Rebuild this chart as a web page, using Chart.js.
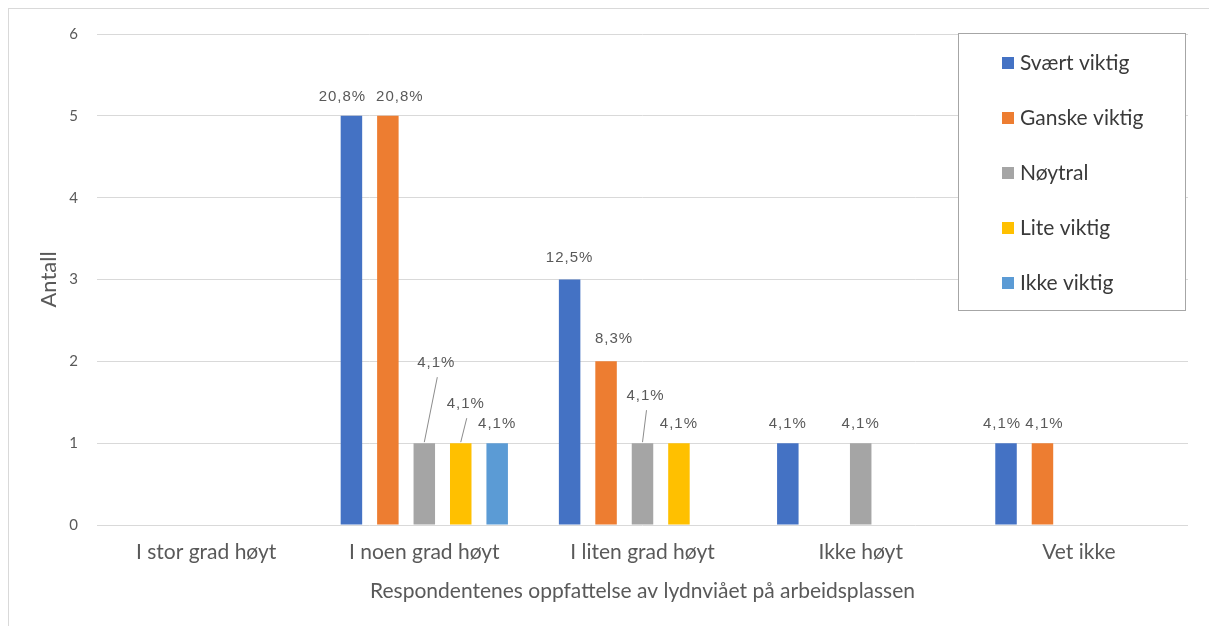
<!DOCTYPE html>
<html>
<head>
<meta charset="utf-8">
<script src="https://cdn.jsdelivr.net/npm/chart.js@4.4.1/dist/chart.umd.min.js"></script>
<style>
  html, body { margin: 0; padding: 0; background: #ffffff; }
  canvas { display: block; }
</style>
</head>
<body>
<canvas id="chart" width="1209" height="626"></canvas>
<script>
// Categories on the x axis
const categories = ['I stor grad høyt', 'I noen grad høyt', 'I liten grad høyt', 'Ikke høyt', 'Vet ikke'];

// Counts per answer group
const svaertViktig = [0, 5, 3, 1, 1];
const ganskeViktig = [0, 5, 2, 0, 1];
const noytral      = [0, 1, 1, 1, 0];
const liteViktig   = [0, 1, 1, 0, 0];
const ikkeViktig   = [0, 1, 0, 0, 0];

// Percent labels printed above the bars
const svaertViktigPct = ['', '20,8%', '12,5%', '4,1%', '4,1%'];
const ganskeViktigPct = ['', '20,8%', '8,3%', '', '4,1%'];
const noytralPct      = ['', '4,1%', '4,1%', '4,1%', ''];
const liteViktigPct   = ['', '4,1%', '4,1%', '', ''];
const ikkeViktigPct   = ['', '4,1%', '', '', ''];

// Y axis range
const yMin = 0, yMax = 6, yStep = 1;

const seriesNames = ['Svært viktig', 'Ganske viktig', 'Nøytral', 'Lite viktig', 'Ikke viktig'];
const seriesColors = ['#4472C4', '#ED7D31', '#A5A5A5', '#FFC000', '#5B9BD5'];
const seriesValues = [svaertViktig, ganskeViktig, noytral, liteViktig, ikkeViktig];
const seriesPct = [svaertViktigPct, ganskeViktigPct, noytralPct, liteViktigPct, ikkeViktigPct];

// Labels nudged away from neighbours: [dx, dy, leader line?] in px
const labelShift = {
  '0:1': [-9, 0, false], '1:1': [12, 0, false],
  '0:2': [0, -3, false], '1:2': [8, -3, false],
  '0:4': [-4, 0, false], '1:4': [2, 0, false],
  '2:1': [12, -61, true], '3:1': [5, -20, true], '2:2': [3, -28, true]
};

const TEXT = '#595959';
const UI_FONT = 'Lato, "Open Sans", sans-serif';

const frame = {
  id: 'frame',
  beforeDraw(chart) {
    const ctx = chart.ctx;
    ctx.save();
    ctx.fillStyle = '#ffffff';
    ctx.fillRect(0, 0, chart.width, chart.height);
    ctx.strokeStyle = '#d9d9d9';
    ctx.lineWidth = 1;
    ctx.strokeRect(8.5, 8.5, chart.width + 20, chart.height + 20);
    ctx.restore();
  }
};

const valueLabels = {
  id: 'valueLabels',
  afterDatasetsDraw(chart) {
    const ctx = chart.ctx;
    ctx.save();
    ctx.font = '15px "Liberation Sans", Arial, sans-serif';
    if ('letterSpacing' in ctx) ctx.letterSpacing = '1px';
    ctx.fillStyle = TEXT;
    ctx.textAlign = 'center';
    ctx.textBaseline = 'middle';
    chart.data.datasets.forEach((ds, di) => {
      const meta = chart.getDatasetMeta(di);
      meta.data.forEach((bar, i) => {
        const txt = ds.pctLabels[i];
        if (!txt) return;
        const shift = labelShift[di + ':' + i] || [0, 0, false];
        const x = bar.x + shift[0];
        const y = bar.y - 19 + shift[1];
        if (shift[2]) {
          ctx.strokeStyle = '#8c8c8c';
          ctx.lineWidth = 1;
          ctx.beginPath();
          ctx.moveTo(bar.x, bar.y - 1);
          ctx.lineTo(x + 1, y + 14);
          ctx.stroke();
        }
        ctx.fillText(txt, x, y);
      });
    });
    ctx.restore();
  }
};

const boxLegend = {
  id: 'boxLegend',
  afterDraw(chart) {
    const ctx = chart.ctx;
    const area = chart.chartArea;
    const left = 958.5, top = area.top - 0.5, right = area.right - 2.5, bottom = 310.5;
    ctx.save();
    ctx.fillStyle = '#ffffff';
    ctx.fillRect(left, top, right - left, bottom - top);
    ctx.strokeStyle = '#a6a6a6';
    ctx.lineWidth = 1;
    ctx.strokeRect(left, top, right - left, bottom - top);
    ctx.font = '21px ' + UI_FONT;
    ctx.textAlign = 'left';
    ctx.textBaseline = 'middle';
    chart.data.datasets.forEach((ds, i) => {
      const cy = 63 + i * 55;
      ctx.fillStyle = ds.backgroundColor;
      ctx.fillRect(1002, cy - 6, 12, 12);
      ctx.fillStyle = '#3a3a3a';
      ctx.fillText(ds.label, 1020, cy);
    });
    ctx.restore();
  }
};

new Chart(document.getElementById('chart'), {
  type: 'bar',
  data: {
    labels: categories,
    datasets: seriesNames.map((name, i) => ({
      label: name,
      data: seriesValues[i],
      pctLabels: seriesPct[i],
      backgroundColor: seriesColors[i],
      borderWidth: 0,
      categoryPercentage: 0.835,
      barPercentage: 0.59
    }))
  },
  options: {
    responsive: false,
    devicePixelRatio: 1,
    animation: false,
    layout: { padding: { top: 34, right: 21, bottom: 0, left: 0 } },
    plugins: {
      legend: { display: false },
      tooltip: { enabled: false }
    },
    scales: {
      x: {
        grid: { display: false, drawTicks: false },
        border: { display: false },
        ticks: { color: TEXT, font: { family: UI_FONT, size: 21 }, padding: 15, maxRotation: 0 },
        title: { display: true, text: 'Respondentenes oppfattelse av lydnviået på arbeidsplassen',
                 color: TEXT, font: { family: UI_FONT, size: 21 }, padding: { top: 0, bottom: 22 } },
        afterFit(s) { s.height = 101; }
      },
      y: {
        min: yMin, max: yMax,
        grid: { color: '#d9d9d9', drawTicks: false, lineWidth: 1 },
        border: { display: false },
        ticks: { stepSize: yStep, color: TEXT, font: { family: UI_FONT, size: 15 }, padding: 19 },
        title: { display: true, text: 'Antall', color: TEXT, font: { family: UI_FONT, size: 22 },
                 padding: { top: 36, bottom: 0 } },
        afterFit(s) { s.width = 97; }
      }
    }
  },
  plugins: [frame, valueLabels, boxLegend]
});
</script>
</body>
</html>
